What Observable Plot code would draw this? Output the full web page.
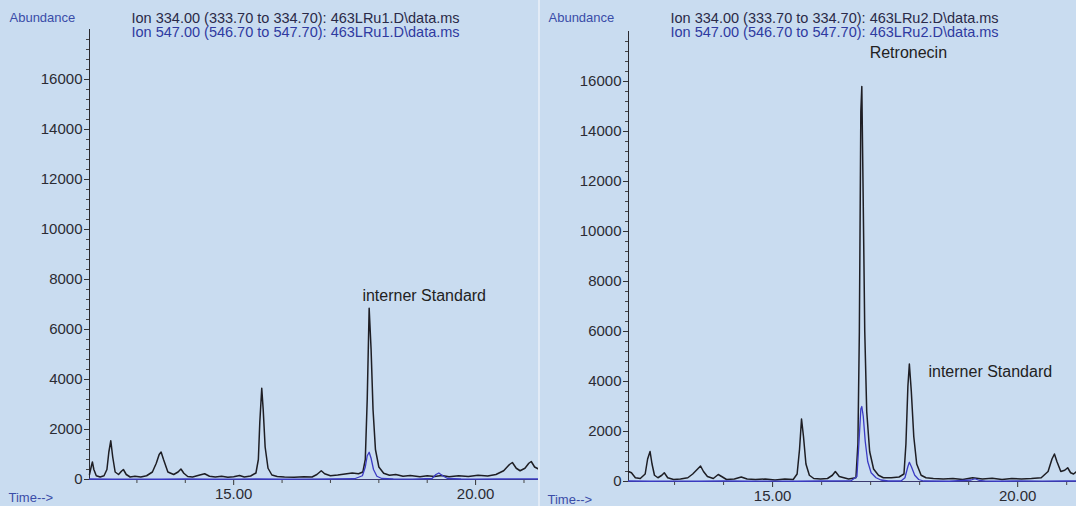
<!DOCTYPE html>
<html><head><meta charset="utf-8">
<script src="https://cdn.jsdelivr.net/npm/d3@7"></script>
<script src="https://cdn.jsdelivr.net/npm/@observablehq/plot@0.6"></script>
<style>
body{margin:0;background:#c9dcf0;}
#wrap{display:flex;width:1076px;height:506px;overflow:hidden;}
#sep{width:2px;height:506px;background:#e2ebf6;}
</style></head><body>
<div id="wrap"><div id="left"></div><div id="sep"></div><div id="right"></div></div>
<script>
// ---- data ----
const headersLeft = ["Ion 334.00 (333.70 to 334.70): 463LRu1.D\\data.ms", "Ion 547.00 (546.70 to 547.70): 463LRu1.D\\data.ms"];
const headersRight = ["Ion 334.00 (333.70 to 334.70): 463LRu2.D\\data.ms", "Ion 547.00 (546.70 to 547.70): 463LRu2.D\\data.ms"];
const yLabel = "Abundance";
const xLabel = "Time-->";
const yMajorTicks = [0, 2000, 4000, 6000, 8000, 10000, 12000, 14000, 16000];
const yMinorTicks = [400,800,1200,1600,2400,2800,3200,3600,4400,4800,5200,5600,6400,6800,7200,7600,8400,8800,9200,9600,10400,10800,11200,11600,12400,12800,13200,13600,14400,14800,15200,15600,16400,16800,17200,17600];
const xMajorTicks = [15, 20];
const xTickLabels = ["15.00", "20.00"];
const xMinorTicks = [13, 14, 16, 17, 18, 19, 21];

// Left sample (463LRu1), ion 334
const timeL334 = [12.02,12.06,12.08,12.11,12.16,12.24,12.32,12.38,12.42,12.46,12.50,12.55,12.62,12.68,12.72,12.78,12.86,12.96,13.08,13.20,13.32,13.40,13.46,13.50,13.55,13.64,13.76,13.85,13.91,13.97,14.05,14.15,14.30,14.40,14.50,14.62,14.75,14.88,15.00,15.12,15.22,15.35,15.46,15.51,15.54,15.58,15.61,15.65,15.71,15.79,15.90,16.05,16.25,16.45,16.62,16.72,16.81,16.88,17.00,17.15,17.30,17.45,17.58,17.67,17.72,17.76,17.80,17.84,17.88,17.93,18.00,18.10,18.22,18.35,18.50,18.65,18.85,19.00,19.15,19.30,19.45,19.65,19.85,20.05,20.25,20.42,20.58,20.70,20.76,20.84,20.92,21.02,21.10,21.15,21.22,21.30];
const abundL334 = [200,550,700,400,150,100,150,400,1100,1550,900,300,200,330,400,200,100,130,100,150,300,650,1000,1100,800,300,200,300,420,250,120,100,180,230,130,100,130,90,110,160,100,140,260,800,2300,3650,2800,1300,450,180,120,100,90,110,100,200,350,230,150,180,220,260,230,300,800,3200,6850,5200,2800,1200,500,250,170,200,130,160,110,150,120,160,110,150,120,170,140,200,350,600,680,450,350,450,650,720,500,420];
// Left sample, ion 547
const timeL547 = [12.02,12.50,13.00,13.50,14.00,14.50,15.00,15.50,16.00,16.50,17.00,17.50,17.66,17.72,17.76,17.80,17.84,17.89,17.96,18.06,18.30,18.70,19.10,19.18,19.24,19.32,19.42,19.70,20.00,20.50,21.00,21.30];
const abundL547 = [20,10,15,10,20,10,15,20,10,15,20,30,150,500,950,1090,850,400,130,40,20,15,40,200,260,150,40,20,15,20,25,20];

// Right sample (463LRu2), ion 334
const timeR334 = [12.06,12.12,12.20,12.30,12.40,12.45,12.50,12.54,12.59,12.66,12.74,12.79,12.86,12.98,13.12,13.27,13.37,13.47,13.53,13.59,13.67,13.79,13.89,13.96,14.06,14.22,14.36,14.48,14.65,14.85,15.05,15.25,15.42,15.50,15.55,15.59,15.63,15.68,15.75,15.84,15.98,16.12,16.22,16.28,16.36,16.55,16.70,16.74,16.77,16.80,16.82,16.85,16.88,16.92,16.98,17.06,17.16,17.26,17.42,17.58,17.68,17.72,17.76,17.79,17.83,17.88,17.94,18.03,18.13,18.28,18.48,18.68,18.88,19.08,19.28,19.48,19.68,19.88,20.08,20.28,20.48,20.62,20.70,20.75,20.80,20.88,20.96,21.02,21.08,21.14,21.20];
const abundR334 = [400,350,150,120,300,900,1200,700,250,150,250,350,150,80,100,150,300,500,620,400,200,120,280,200,80,100,180,100,80,100,60,100,80,300,1300,2500,1800,700,250,120,100,120,250,400,200,100,150,1500,6000,14800,15800,11000,6000,2800,1200,500,250,150,150,180,300,1500,3800,4700,3600,1800,700,250,150,120,100,120,80,150,100,130,80,120,100,120,150,400,900,1100,800,400,450,550,350,300,400];
// Right sample, ion 547
const timeR547 = [12.06,12.50,13.00,13.50,14.00,14.50,15.00,15.50,16.00,16.60,16.72,16.76,16.80,16.82,16.85,16.89,16.94,17.01,17.11,17.21,17.36,17.62,17.70,17.76,17.79,17.83,17.90,17.98,18.08,18.60,19.05,19.13,19.22,19.35,19.60,20.00,20.50,21.00,21.20];
const abundR547 = [20,10,15,10,20,10,15,10,20,30,200,1500,2900,3000,2600,1600,800,350,150,60,20,20,150,600,770,600,250,80,20,10,60,110,40,15,10,20,15,20,20];

// peak annotations (label start point in data units)
const notesLeft = [{time: 17.66, abundance: 7350, label: "interner Standard"}];
const notesRight = [{time: 16.98, abundance: 17150, label: "Retronecin"}, {time: 18.18, abundance: 4400, label: "interner Standard"}];

// ---- drawing ----
const BG = "#c9dcf0";
const FONT = "'Liberation Sans', Arial, sans-serif";
const toRows = (t, v) => t.map((d, i) => ({time: d, abundance: v[i]}));

function panel({width, ml, mt, mb, xDomain, black, blue, headers, notes}) {
  return Plot.plot({
    width, height: 506, marginLeft: ml, marginRight: 0, marginTop: mt, marginBottom: mb,
    style: {background: BG, fontFamily: FONT, color: "#2b2b33", overflow: "visible"},
    x: {domain: xDomain, axis: null},
    y: {domain: [0, 18000], axis: null},
    marks: [
      Plot.axisY({ticks: yMajorTicks, label: null, tickSize: 5, tickPadding: 2, fontSize: 15, tickFormat: d => String(d), stroke: "#333"}),
      Plot.axisY({ticks: yMinorTicks, label: null, tickSize: 3, text: null, stroke: "#444"}),
      Plot.axisX({ticks: xMajorTicks, label: null, tickSize: 6, tickPadding: 3, fontSize: 15, tickFormat: d => xTickLabels[xMajorTicks.indexOf(d)], stroke: "#333"}),
      Plot.axisX({ticks: xMinorTicks, label: null, tickSize: 4, text: null, stroke: "#444"}),
      Plot.frame({anchor: "left", stroke: "#2a2a30"}),
      Plot.ruleY([0], {stroke: "#3a3a70"}),
      Plot.line(black, {x: "time", y: "abundance", stroke: "#1e1e24", strokeWidth: 1.5, curve: "linear"}),
      Plot.line(blue, {x: "time", y: "abundance", stroke: "#3b3bc4", strokeWidth: 1.3, curve: "linear"}),
      Plot.text(notes, {x: "time", y: "abundance", text: "label", textAnchor: "start", lineAnchor: "middle", fontSize: 16, fill: "#222"}),
      Plot.text([headers[0]], {frameAnchor: "top-left", dx: 42, dy: 18 - mt, textAnchor: "start", lineAnchor: "middle", fontSize: 14.5, fill: "#2a2a48"}),
      Plot.text([headers[1]], {frameAnchor: "top-left", dx: 42, dy: 32 - mt, textAnchor: "start", lineAnchor: "middle", fontSize: 14.5, fill: "#2f3aa0"}),
      Plot.text([yLabel], {frameAnchor: "top-left", dx: -80, dy: 17 - mt, textAnchor: "start", lineAnchor: "middle", fontSize: 13, fill: "#3a4ca8"}),
      Plot.text([xLabel], {frameAnchor: "bottom-left", dx: -81, dy: 18, textAnchor: "start", lineAnchor: "middle", fontSize: 13, fill: "#3a4ca8"})
    ]
  });
}

document.getElementById("left").append(panel({
  width: 538, ml: 89, mt: 29, mb: 27, xDomain: [12.02, 21.30],
  black: toRows(timeL334, abundL334), blue: toRows(timeL547, abundL547),
  headers: headersLeft, notes: notesLeft
}));
document.getElementById("right").append(panel({
  width: 536, ml: 88, mt: 31, mb: 25, xDomain: [12.06, 21.20],
  black: toRows(timeR334, abundR334), blue: toRows(timeR547, abundR547),
  headers: headersRight, notes: notesRight
}));
</script>
</body></html>
